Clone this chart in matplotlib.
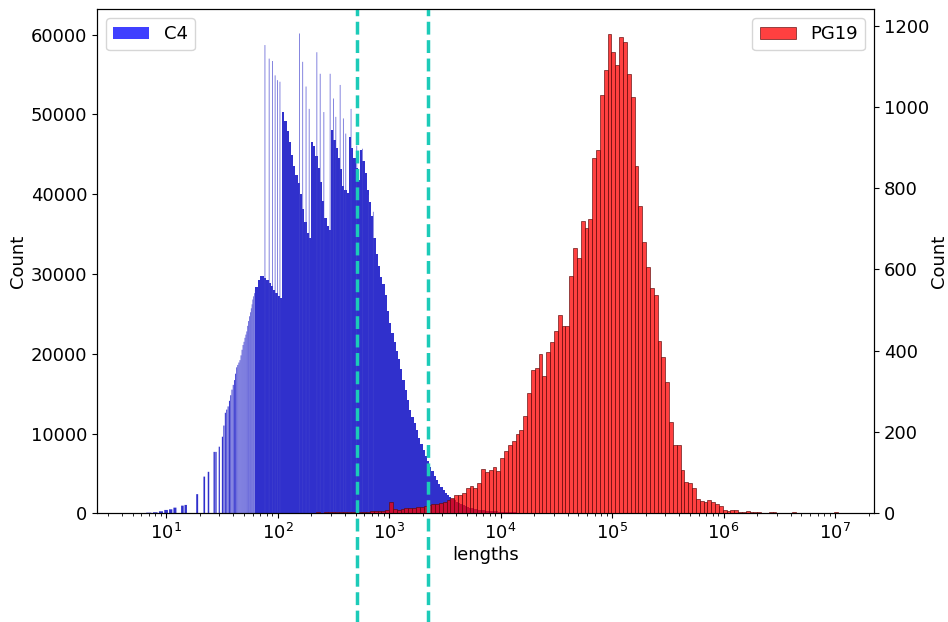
import numpy as np
import matplotlib
matplotlib.use("Agg")
import matplotlib.pyplot as plt
from matplotlib.patches import Patch

# ---------------------------------------------------------------------------
# DATA
# ---------------------------------------------------------------------------
# PG19: log-spaced bins, first edge 10**1.4864, each bin 0.0344 decades wide
pg19_log_start = 1.4864
pg19_log_width = 0.0344
pg19_counts = [
    0, 1,
    0, 0, 0, 0, 0, 0, 0, 0, 0, 0, 0, 0, 0, 0, 0, 0,
    0, 1, 0, 1, 0, 1, 1, 2, 1, 2, 2, 2, 3, 3, 3, 2, 3, 3, 4, 3, 4, 5, 5, 5, 6, 7,
    29, 10, 9, 11, 12, 13, 14, 15, 16, 19,
    20, 22, 23, 25, 28, 33, 38, 44, 45, 49,
    62, 66, 62, 74, 109, 101, 107, 113, 105, 135,
    154, 168, 177, 196, 204, 240, 296, 353, 357, 393,
    337, 398, 421, 449, 489, 460, 462, 584, 653, 629,
    720, 701, 725, 875, 893, 1029, 1092, 1180, 1135, 1102,
    1173, 1159, 1081, 1025, 855, 757, 667, 607, 554, 537,
    425, 384, 322, 224, 167, 167, 107, 76, 74, 62,
    35, 31, 29, 33, 27, 23, 19, 8, 5, 9,
    9, 3, 2, 6, 3, 2, 3, 1, 1, 2,
    2, 0, 1, 0, 0, 2, 1, 0, 1, 0,
    0, 1, 0, 0, 0, 0, 2, 0,
]

# C4, dense part: log-spaced bins from 10**1.80, 0.02 decades wide
c4_log_start = 1.80
c4_log_width = 0.02
c4_dense_counts = [
    28400, 29300, 29700, 29800, 29500, 29200, 28900, 28500, 28000, 27600,
    27200, 27000, 50300, 49200, 47900, 46500, 44900, 43500, 42400, 41400,
    40000, 38200, 36500, 35200, 34500, 46500, 46000, 44800, 43300, 41500,
    39200, 37000, 36000, 35500, 48000, 46800, 45800, 44500, 43200, 41000,
    40500, 40200, 47200, 45800, 44500, 43300, 41800, 45500, 44200, 42600,
    40500, 39000, 37300, 34500, 32500, 31000, 29600, 28800, 27400, 25400,
    23800, 22600, 21500, 20400, 19300, 18100, 16700, 15400, 14200, 12900,
    12100, 11300, 10400, 9500, 8700, 7900, 7200, 6500, 5850, 5250,
    4700, 4170, 3700, 3280, 2900, 2600, 2320, 2080, 1850, 1640,
    1450, 1300, 1150, 1020, 900, 800, 720, 640, 570, 500,
    460, 420, 380, 340, 310, 290, 270, 250, 230, 210,
    195, 180, 165, 150, 135, 120, 110, 100, 90, 80,
    70, 62, 55, 48, 40,
]

# C4, short lengths: one bin per integer length (comb of thin bars)
c4_short_lengths = [6, 7, 8, 9, 10, 11, 12, 14, 15, 19, 22, 24, 27, 28, 30,
                    32, 33, 34, 35, 36, 37, 38, 39, 40, 41, 42, 43, 44, 45,
                    46, 47, 48, 49, 50, 51, 52, 53, 54, 55, 56, 57, 58, 59,
                    60, 61, 62, 63, 64]
c4_short_counts = [30, 80, 125, 250, 420, 500, 710, 960, 1050, 2400, 4600,
                   5200, 7700, 7700, 8350, 9600, 11000, 12600, 13000, 13400,
                   14100, 14800, 15500, 16100, 16700, 17500, 18300, 18600,
                   18900, 19200, 19800, 20500, 21100, 21500, 22000, 22400,
                   22800, 23500, 24100, 24700, 25200, 25700, 26200, 26800,
                   27200, 27600, 28000, 28300]

# C4, isolated tall single-bin spikes
c4_spike_lengths = [77, 84, 90, 95, 100, 105, 157, 168, 180, 192, 225, 241,
                    260, 296, 317, 333, 364, 389, 409, 456, 513, 576, 652,
                    722]
c4_spike_counts = [58700, 57000, 56700, 54900, 54300, 54100, 60150, 56600,
                   53500, 50700, 57800, 55100, 50300, 55100, 52000, 49700,
                   53700, 49500, 47600, 50700, 46100, 45700, 39900, 37800]

# chunk-size markers (dashed)
cut_lengths = [512, 2250]

x_ticks = [1e1, 1e2, 1e3, 1e4, 1e5, 1e6, 1e7]

# ---------------------------------------------------------------------------
# STYLE
# ---------------------------------------------------------------------------
BLUE_FILL = "#3030cc"
BLUE_LEG = (0.0, 0.0, 1.0, 0.75)
RED_FACE = (1.0, 0.0, 0.0, 0.75)
RED_EDGE = (0.36, 0.04, 0.04, 0.75)
CUT_COLOR = "#1ccbb8"
FS = 13

plt.rcParams.update({"font.family": "DejaVu Sans", "font.size": FS})


def log_edges(start, width, n):
    return 10 ** (start + width * np.arange(n + 1))


def thin_widths(xs, half=0.003):
    xs = np.asarray(xs, dtype=float)
    return xs * (10 ** half - 10 ** -half)


fig = plt.figure(figsize=(9.48, 6.22), dpi=100)
ax = fig.add_axes([97 / 948, 1 - 513.3 / 622, 777 / 948, 504.3 / 622])
ax.set_xscale("log")

# C4 on the left axis
c4_edges = log_edges(c4_log_start, c4_log_width, len(c4_dense_counts))
ax.stairs(c4_dense_counts, c4_edges, fill=True, color=BLUE_FILL,
          linewidth=0)
short_bars = ax.bar(c4_short_lengths, c4_short_counts, width=0.75,
                    color=BLUE_FILL, alpha=1.0, linewidth=0)
spike_bars = ax.bar(c4_spike_lengths, c4_spike_counts,
                    width=thin_widths(c4_spike_lengths, 0.0035),
                    color="#4040cc", alpha=0.8, linewidth=0)
for bar in list(short_bars) + list(spike_bars):
    bar.set_snap(False)

ax.set_ylim(0, 63220)
ax.set_yticks(np.arange(0, 60001, 10000))
ax.set_ylabel("Count", fontsize=FS, labelpad=3)
ax.set_xlabel("lengths", fontsize=FS, labelpad=2)
ax.tick_params(labelsize=FS)

# PG19 on the right axis
ax2 = ax.twinx()
pg_edges = log_edges(pg19_log_start, pg19_log_width, len(pg19_counts))
ax2.bar(pg_edges[:-1], pg19_counts, width=np.diff(pg_edges), align="edge",
        facecolor=RED_FACE, edgecolor=RED_EDGE, linewidth=0.6)
ax2.set_ylim(0, 1241)
ax2.set_yticks(np.arange(0, 1201, 200))
ax2.set_ylabel("Count", fontsize=FS, labelpad=0.5)
ax2.tick_params(labelsize=FS)

ax.set_xlim(10 ** 0.38, 10 ** 7.35)
ax.set_xticks(x_ticks)

for cut in cut_lengths:
    ax2.axvline(cut, ymin=-0.23, ymax=1.0, clip_on=False, color=CUT_COLOR,
                linestyle="--", linewidth=2.5)

ax.legend(handles=[Patch(facecolor=BLUE_LEG, label="C4")],
          loc="upper left", fontsize=FS)
ax2.legend(handles=[Patch(facecolor=RED_FACE, edgecolor=RED_EDGE,
                          linewidth=0.6, label="PG19")],
           loc="upper right", fontsize=FS)

fig.savefig("out.png", dpi=100)
